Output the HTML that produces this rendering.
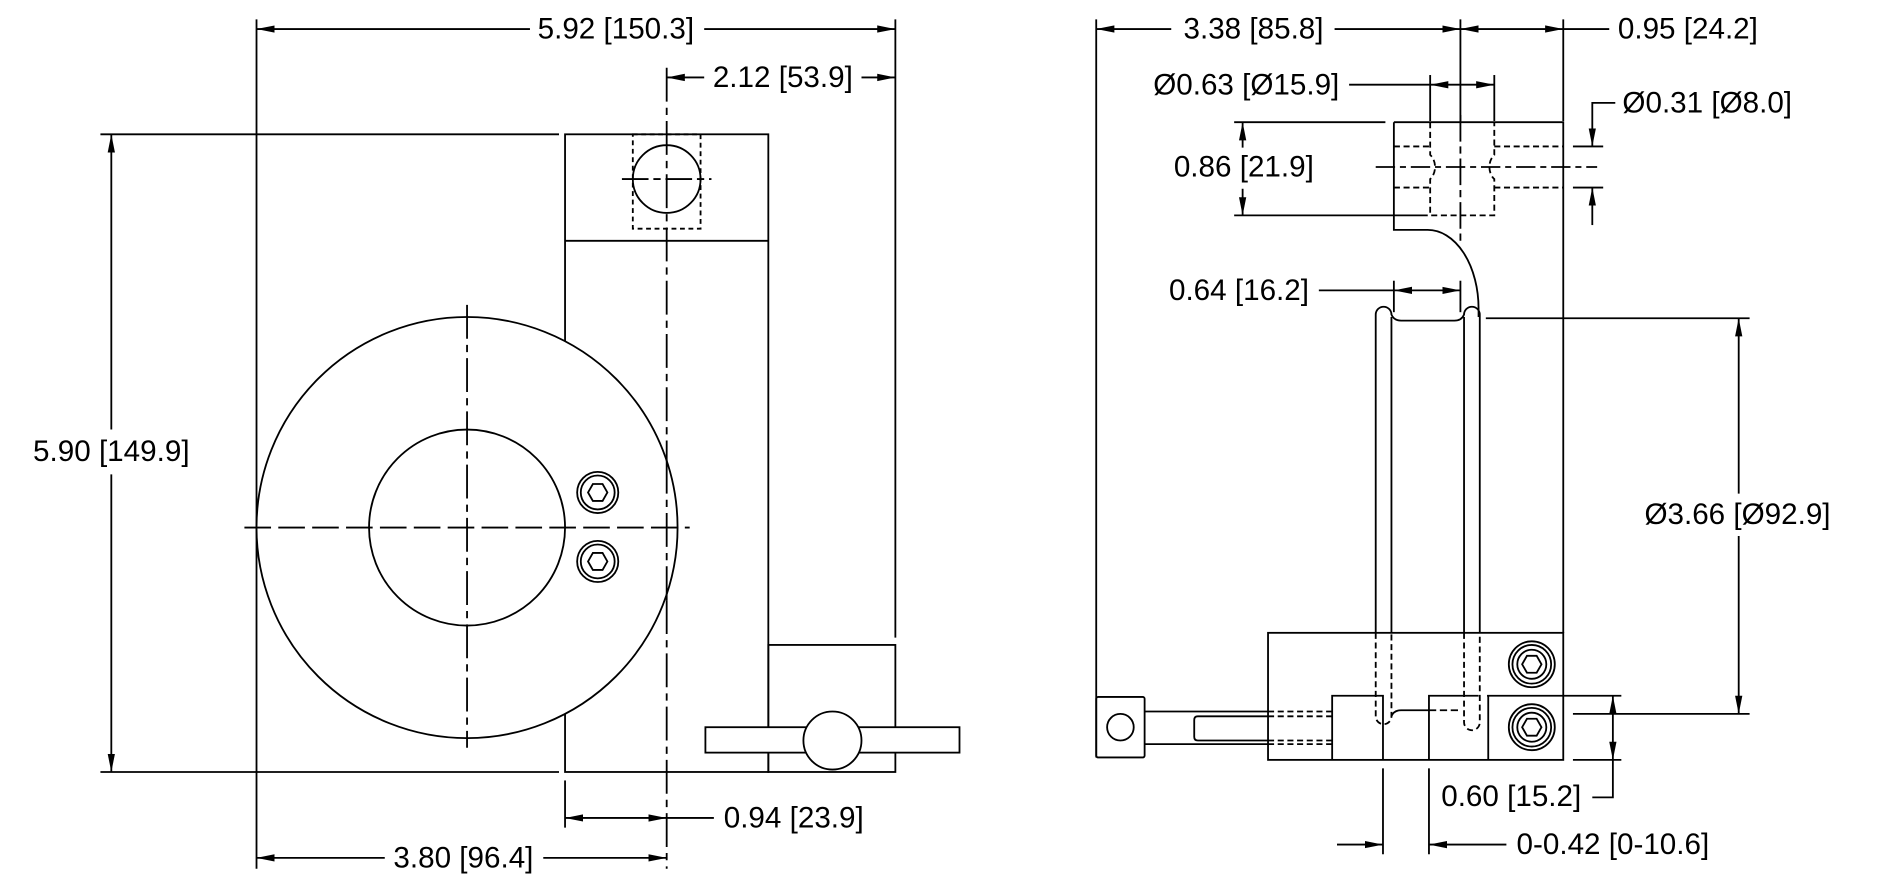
<!DOCTYPE html>
<html><head><meta charset="utf-8"><style>
html,body{margin:0;padding:0;background:#fff;}
svg{display:block;}
text{font-family:"Liberation Sans",Arial,sans-serif;font-size:24.5px;fill:#000;}
</style></head><body>
<svg width="1896" height="881" viewBox="0 0 1567 728.1" preserveAspectRatio="none" xmlns="http://www.w3.org/2000/svg">
<defs>
<marker id="a" markerUnits="userSpaceOnUse" markerWidth="16" markerHeight="8" refX="15" refY="4" orient="auto-start-reverse" viewBox="0 0 16 8"><path d="M0,1 L15,4 L0,7 Z" fill="#000"/></marker>
</defs>
<g stroke="#000" stroke-width="1.5" fill="none">
<line x1="212" y1="16" x2="212" y2="718"/>
<line x1="740" y1="16" x2="740" y2="527"/>
<line x1="83" y1="111" x2="462" y2="111"/>
<line x1="83" y1="638" x2="462" y2="638"/>
<line x1="467" y1="645" x2="467" y2="684"/>
<line x1="212" y1="24" x2="438" y2="24" marker-start="url(#a)"/>
<line x1="582" y1="24" x2="740" y2="24" marker-end="url(#a)"/>
<line x1="551" y1="64" x2="582" y2="64" marker-start="url(#a)"/>
<line x1="712" y1="64" x2="740" y2="64" marker-end="url(#a)"/>
<line x1="92" y1="111" x2="92" y2="355" marker-start="url(#a)"/>
<line x1="92" y1="392" x2="92" y2="638" marker-end="url(#a)"/>
<line x1="467" y1="676" x2="551" y2="676" marker-start="url(#a)" marker-end="url(#a)"/>
<line x1="551" y1="676" x2="590" y2="676"/>
<line x1="212" y1="709" x2="318" y2="709" marker-start="url(#a)"/>
<line x1="449" y1="709" x2="551" y2="709" marker-end="url(#a)"/>
<rect x="467" y="111" width="168" height="527"/>
<line x1="467" y1="199" x2="635" y2="199"/>
<rect x="523" y="111" width="56" height="78" stroke-dasharray="4,3"/>
<circle cx="551" cy="148" r="28"/>
<line x1="514" y1="148" x2="588" y2="148" stroke-dasharray="22,4,6,4"/>
<line x1="551" y1="56" x2="551" y2="718" stroke-dasharray="28,5,6,5"/>
<circle cx="386" cy="436" r="174" fill="#fff"/>
<circle cx="386" cy="436" r="81"/>
<line x1="202" y1="436" x2="570" y2="436" stroke-dasharray="22,6"/>
<line x1="386" y1="252" x2="386" y2="618" stroke-dasharray="28,5,6,5"/>
<line x1="551" y1="380" x2="551" y2="500" stroke-dasharray="28,5,6,5"/>
<circle cx="494" cy="407" r="17"/><circle cx="494" cy="407" r="14"/>
<polygon points="502,407 498,414 490,414 486,407 490,400 498,400"/>
<circle cx="494" cy="464" r="17"/><circle cx="494" cy="464" r="14"/>
<polygon points="502,464 498,471 490,471 486,464 490,457 498,457"/>
<rect x="635" y="533" width="105" height="105"/>
<rect x="583" y="601" width="210" height="21" fill="#fff"/>
<circle cx="688" cy="612" r="24" fill="#fff"/>

<line x1="906" y1="16" x2="906" y2="626"/>
<line x1="1207" y1="16" x2="1207" y2="100"/>
<line x1="1292" y1="16" x2="1292" y2="100"/>
<line x1="906" y1="24" x2="968" y2="24" marker-start="url(#a)"/>
<line x1="1103" y1="24" x2="1207" y2="24" marker-end="url(#a)"/>
<line x1="1207" y1="24" x2="1292" y2="24" marker-start="url(#a)" marker-end="url(#a)"/>
<line x1="1292" y1="24" x2="1330" y2="24"/>
<line x1="1182" y1="62" x2="1182" y2="100"/>
<line x1="1235" y1="62" x2="1235" y2="100"/>
<line x1="1115" y1="70" x2="1182" y2="70"/>
<line x1="1182" y1="70" x2="1235" y2="70" marker-start="url(#a)" marker-end="url(#a)"/>
<path d="M1152,101 H1292 V523 M1152,101 V190 H1180 A42,65 0 0 1 1222,255 V262"/>
<line x1="1207" y1="95" x2="1207" y2="200" stroke-dasharray="22,4,6,4"/>
<path d="M1182,101 V128 A9,12 0 0 1 1182,148 V178 H1235 V148 A9,12 0 0 1 1235,128 V101" stroke-dasharray="5,3"/>
<line x1="1152" y1="121" x2="1182" y2="121" stroke-dasharray="5,3"/>
<line x1="1152" y1="155" x2="1182" y2="155" stroke-dasharray="5,3"/>
<line x1="1235" y1="121" x2="1292" y2="121" stroke-dasharray="5,3"/>
<line x1="1235" y1="155" x2="1292" y2="155" stroke-dasharray="5,3"/>
<line x1="1137" y1="138" x2="1320" y2="138" stroke-dasharray="16,4,5,4"/>
<line x1="1300" y1="121" x2="1325" y2="121"/>
<line x1="1300" y1="155" x2="1325" y2="155"/>
<path d="M1335,85 H1316 V121" marker-end="url(#a)"/>
<line x1="1316" y1="186" x2="1316" y2="155" marker-end="url(#a)"/>
<line x1="1020" y1="101" x2="1145" y2="101"/>
<line x1="1020" y1="178" x2="1180" y2="178"/>
<line x1="1027" y1="101" x2="1027" y2="122" marker-start="url(#a)"/>
<line x1="1027" y1="156" x2="1027" y2="178" marker-end="url(#a)"/>
<line x1="1152" y1="232" x2="1152" y2="258"/>
<line x1="1207" y1="232" x2="1207" y2="258"/>
<line x1="1090" y1="240" x2="1152" y2="240"/>
<line x1="1152" y1="240" x2="1207" y2="240" marker-start="url(#a)" marker-end="url(#a)"/>
<path d="M1137,523 V260 A6.5,6.5 0 0 1 1150,260 Q1152,265 1158,265 H1202 Q1208,265 1210,260 A6.5,6.5 0 0 1 1223,260 V523"/>
<line x1="1150" y1="262" x2="1150" y2="523"/>
<line x1="1210" y1="262" x2="1210" y2="523"/>
<path d="M1137,523 V592 A6.5,6.5 0 0 0 1150,592 V523 M1210,523 V597 A6.5,6.5 0 0 0 1223,597 V523" stroke-dasharray="5,3"/>
<path d="M1150,592 Q1152,587 1158,587 H1181"/>
<line x1="1181" y1="587" x2="1205" y2="587" stroke-dasharray="6,3"/>
<line x1="1228" y1="263" x2="1446" y2="263"/>
<line x1="1300" y1="590" x2="1446" y2="590"/>
<line x1="1437" y1="263" x2="1437" y2="408" marker-start="url(#a)"/>
<line x1="1437" y1="443" x2="1437" y2="590" marker-end="url(#a)"/>
<rect x="1048" y="523" width="244" height="105" fill="none"/>
<path d="M1101,628 V575 H1143 V628 M1181,628 V575 H1222 M1230,575 V628"/>
<line x1="1229" y1="575" x2="1340" y2="575"/>
<line x1="1300" y1="628" x2="1340" y2="628"/>
<circle cx="1266" cy="549" r="19"/><circle cx="1266" cy="549" r="16"/><circle cx="1266" cy="549" r="12"/>
<polygon points="1274,549 1270,556 1262,556 1258,549 1262,542 1270,542"/>
<circle cx="1266" cy="601" r="19"/><circle cx="1266" cy="601" r="16"/><circle cx="1266" cy="601" r="12"/>
<polygon points="1274,601 1270,608 1262,608 1258,601 1262,594 1270,594"/>
<rect x="906" y="576" width="40" height="50" rx="1.5"/>
<circle cx="926" cy="601" r="11"/>
<line x1="946" y1="588" x2="1048" y2="588"/>
<line x1="946" y1="615" x2="1048" y2="615"/>
<path d="M1048,592 H990 Q987,592 987,595 V609 Q987,612 990,612 H1048"/>
<g stroke-dasharray="5,3">
<line x1="1048" y1="588" x2="1101" y2="588"/><line x1="1048" y1="592" x2="1101" y2="592"/>
<line x1="1048" y1="612" x2="1101" y2="612"/><line x1="1048" y1="615" x2="1101" y2="615"/>
</g>
<line x1="1333" y1="575" x2="1333" y2="628" marker-start="url(#a)" marker-end="url(#a)"/>
<path d="M1333,628 V659 H1316"/>
<line x1="1143" y1="635" x2="1143" y2="706"/>
<line x1="1181" y1="635" x2="1181" y2="706"/>
<line x1="1105" y1="698" x2="1143" y2="698" marker-end="url(#a)"/>
<line x1="1245" y1="698" x2="1181" y2="698" marker-end="url(#a)"/>
</g>
<g>
<text x="509" y="32" text-anchor="middle">5.92 [150.3]</text>
<text x="647" y="72" text-anchor="middle">2.12 [53.9]</text>
<text x="92" y="381" text-anchor="middle">5.90 [149.9]</text>
<text x="656" y="684" text-anchor="middle">0.94 [23.9]</text>
<text x="383" y="717" text-anchor="middle">3.80 [96.4]</text>
<text x="1036" y="32" text-anchor="middle">3.38 [85.8]</text>
<text x="1395" y="32" text-anchor="middle">0.95 [24.2]</text>
<text x="1030" y="78" text-anchor="middle">Ø0.63 [Ø15.9]</text>
<text x="1411" y="93" text-anchor="middle">Ø0.31 [Ø8.0]</text>
<text x="1028" y="146" text-anchor="middle">0.86 [21.9]</text>
<text x="1024" y="248" text-anchor="middle">0.64 [16.2]</text>
<text x="1436" y="433" text-anchor="middle">Ø3.66 [Ø92.9]</text>
<text x="1249" y="666" text-anchor="middle">0.60 [15.2]</text>
<text x="1333" y="706" text-anchor="middle">0-0.42 [0-10.6]</text>
</g>
</svg>
</body></html>
